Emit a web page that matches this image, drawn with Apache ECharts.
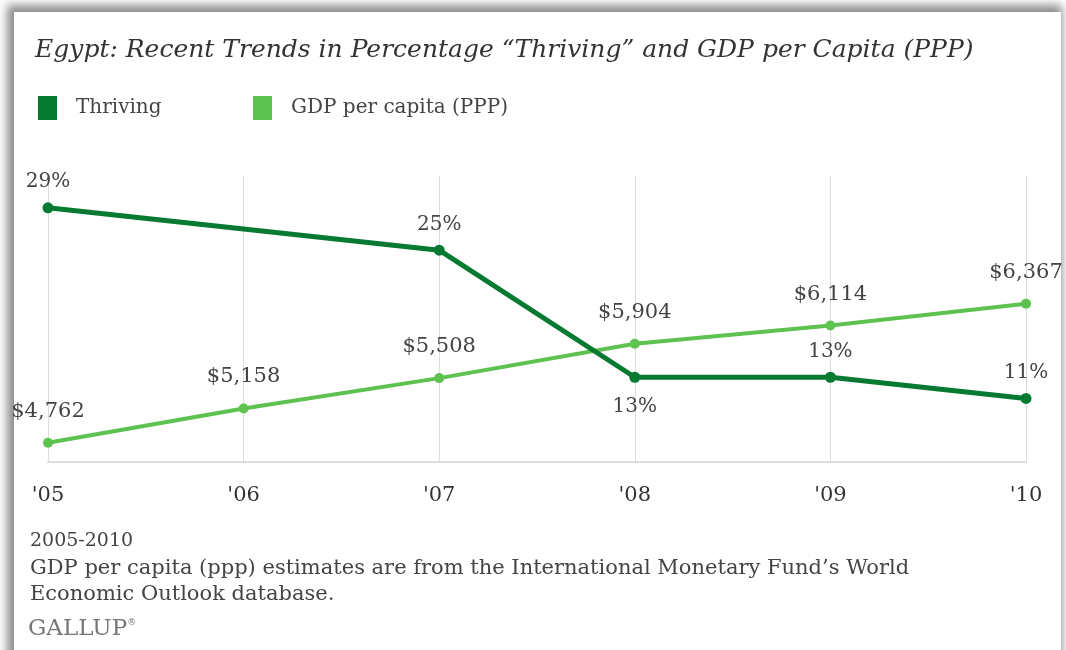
<!DOCTYPE html>
<html>
<head>
<meta charset="utf-8">
<script src="https://cdn.jsdelivr.net/npm/echarts@6/dist/echarts.min.js"></script>
<style>
    html, body { margin: 0; padding: 0; background: #fff; }
    #frame {
        position: absolute; left: 14px; top: 12px; width: 1047px; height: 720px;
        background: #fff;
        box-shadow: -3px -3px 9px 4px rgba(0, 0, 0, 0.45);
    }
    #chart { position: absolute; left: 0; top: 0; width: 1066px; height: 650px; }
</style>
</head>
<body>
<div id="frame"></div>
<div id="chart"></div>
<script>
var years = ["'05", "'06", "'07", "'08", "'09", "'10"];
// no Thriving reading for 2006
var thriving = [29, null, 25, 13, 13, 11];
var gdp = [4762, 5158, 5508, 5904, 6114, 6367];

var darkGreen = "#077a31";
var lightGreen = "#5dc24f";
var serif = "DejaVu Serif";

var chart = echarts.init(document.getElementById("chart"));

// the 2008 Thriving label sits under its point
var thrivingData = thriving.map(function (v, i) {
    if (i === 3) {
        return { value: v, label: { position: "bottom", distance: 14 } };
    }
    return v;
});

var option = {
    backgroundColor: "transparent",
    animation: false,
    title: {
        text: "Egypt: Recent Trends in Percentage \u201cThriving\u201d and GDP per Capita (PPP)",
        left: 30,
        top: 33,
        textStyle: {
            fontFamily: serif,
            fontStyle: "italic",
            fontWeight: "normal",
            fontSize: 25,
            color: "#333",
        },
    },
    legend: [
        {
            data: ["Thriving"],
            left: 33,
            top: 91,
            itemWidth: 19,
            itemHeight: 24,
            icon: "rect",
            textStyle: { fontFamily: serif, fontSize: 20, color: "#444", padding: [0, 0, 0, 14] },
        },
        {
            data: ["GDP per capita (PPP)"],
            left: 248,
            top: 91,
            itemWidth: 19,
            itemHeight: 24,
            icon: "rect",
            textStyle: { fontFamily: serif, fontSize: 20, color: "#444", padding: [0, 0, 0, 14] },
        },
    ],
    grid: {
        left: 48,
        right: 40,
        top: 176,
        bottom: 188,
        containLabel: false,
    },
    xAxis: {
        type: "category",
        boundaryGap: false,
        data: years,
        axisTick: { show: false },
        axisLine: { lineStyle: { color: "#dcdcdc", width: 2 } },
        splitLine: { show: true, lineStyle: { color: "#dcdcdc", width: 1 } },
        axisLabel: {
            margin: 23,
            fontFamily: serif,
            fontSize: 21,
            color: "#333",
        },
    },
    yAxis: [
        { type: "value", min: 5, max: 32, show: false, splitLine: { show: false } },
        { type: "value", min: 4540, max: 7840, show: false, splitLine: { show: false } },
    ],
    series: [
        {
            name: "GDP per capita (PPP)",
            type: "line",
            yAxisIndex: 1,
            data: gdp,
            symbol: "circle",
            symbolSize: 10,
            lineStyle: { color: lightGreen, width: 4 },
            itemStyle: { color: lightGreen },
            label: {
                show: true,
                position: "top",
                distance: 16,
                fontFamily: serif,
                fontSize: 21,
                color: "#444",
                formatter: function (p) {
                    return "$" + p.value.toLocaleString("en-US");
                },
            },
            z: 2,
        },
        {
            name: "Thriving",
            type: "line",
            yAxisIndex: 0,
            data: thrivingData,
            connectNulls: true,
            symbol: "circle",
            symbolSize: 11,
            lineStyle: { color: darkGreen, width: 5 },
            itemStyle: { color: darkGreen },
            label: {
                show: true,
                position: "top",
                distance: 10,
                fontFamily: serif,
                fontSize: 20,
                color: "#444",
                formatter: "{c}%",
            },
            z: 3,
        },
    ],
    graphic: [
        {
            type: "text",
            left: 30,
            top: 532,
            style: { text: "2005-2010", font: "19px 'DejaVu Serif'", fill: "#444" },
        },
        {
            type: "text",
            left: 30,
            top: 556,
            style: {
                text: "GDP per capita (ppp) estimates are from the International Monetary Fund\u2019s World\nEconomic Outlook database.",
                font: "21px 'DejaVu Serif'",
                fill: "#444",
                lineHeight: 26,
            },
        },
        {
            type: "text",
            left: 28,
            top: 618,
            style: {
                text: "{a|GALLUP}{b|\u00ae}",
                rich: {
                    a: { fontFamily: serif, fontSize: 23, fill: "#777" },
                    b: { fontFamily: serif, fontSize: 9, fill: "#777", verticalAlign: "top" },
                },
            },
        },
    ],
};

chart.setOption(option);
</script>
</body>
</html>
